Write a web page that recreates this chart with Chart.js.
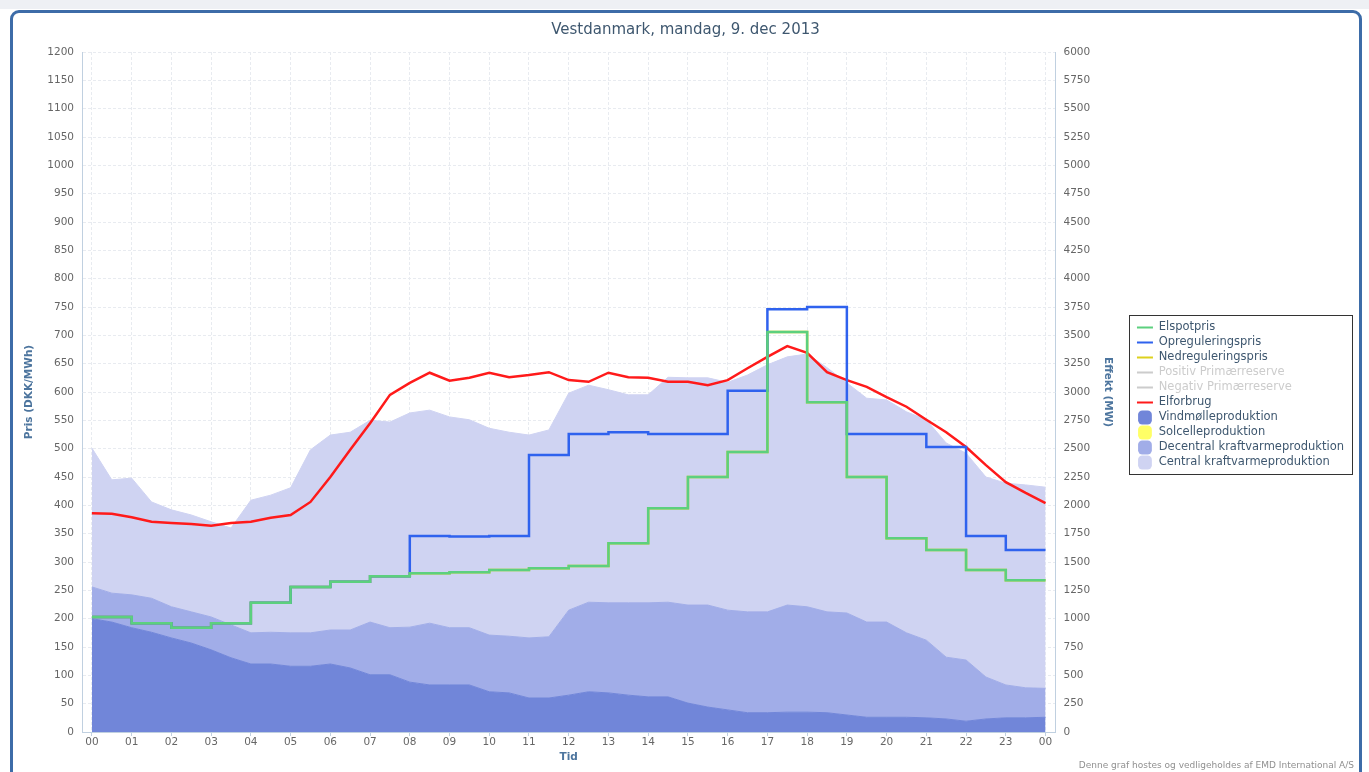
<!DOCTYPE html>
<html lang="da">
<head>
    <meta charset="UTF-8">
    <title>Vestdanmark, mandag, 9. dec 2013</title>
    <style>
        html, body { margin: 0; padding: 0; background: #fff; overflow: hidden; }
        .topstrip { position: absolute; left: 0; top: 0; width: 1369px; height: 9px; background: #eef0f4; }
        .frame { position: absolute; left: 10px; top: 10px; width: 1346px; height: 800px;
                 border: 3px solid #3d6ca8; border-radius: 9px; background: #fff; }
        .wrap { position: absolute; left: 0; top: 0; width: 1369px; height: 772px; }
        .credit { position: absolute; right: 15px; top: 760px; font: 9px "DejaVu Sans", sans-serif; color: #909090; }
    </style>
</head>
<body>
    <div class="topstrip"></div>
    <div class="frame"></div>
    <div class="wrap"><canvas id="chart"></canvas></div>
    <div class="credit">Denne graf hostes og vedligeholdes af EMD International A/S</div>

    <script src="https://cdn.jsdelivr.net/npm/chart.js"></script>
    <script>
        // hourly prices (DKK/MWh), one value per hour 00-23
        const HOURS = [0, 1, 2, 3, 4, 5, 6, 7, 8, 9, 10, 11, 12, 13, 14, 15, 16, 17, 18, 19, 20, 21, 22, 23];
        const ELSPOT = [203, 192, 184, 192, 228, 256, 265, 275, 280, 282, 286, 289, 293, 333, 395, 450, 494, 706, 582, 450, 342, 321, 286, 268];
        const OPREG  = [203, 192, 184, 192, 228, 256, 265, 275, 346, 345, 346, 489, 526, 529, 526, 526, 602, 746, 750, 526, 526, 503, 346, 321];
        const NEDREG = [203, 192, 184, 192, 228, 256, 265, 275, 280, 282, 286, 289, 293, 333, 395, 450, 494, 706, 582, 450, 342, 321, 286, 268];

        // half-hourly power (MW)
        const HALF_HOURS = [0, 0.5, 1, 1.5, 2, 2.5, 3, 3.5, 4, 4.5, 5, 5.5, 6, 6.5, 7, 7.5, 8, 8.5, 9, 9.5,
            10, 10.5, 11, 11.5, 12, 12.5, 13, 13.5, 14, 14.5, 15, 15.5, 16, 16.5, 17, 17.5, 18, 18.5, 19, 19.5,
            20, 20.5, 21, 21.5, 22, 22.5, 23, 23.5, 24];
        const ELFORBRUG = [1930, 1925, 1895, 1855, 1845, 1835, 1820, 1845, 1855, 1890, 1915, 2030, 2250, 2490, 2725, 2975,
            3080, 3170, 3100, 3125, 3170, 3130, 3150, 3175, 3105, 3090, 3170, 3130, 3125, 3090, 3090, 3060,
            3105, 3210, 3310, 3405, 3345, 3175, 3105, 3045, 2955, 2870, 2755, 2645, 2515, 2355, 2205, 2110, 2020];
        const VIND = [1000, 970, 920, 880, 830, 785, 725, 655, 600, 600, 580, 580, 600, 565, 505, 505,
            440, 415, 415, 415, 355, 345, 300, 300, 325, 355, 345, 325, 310, 310, 255, 220,
            195, 170, 170, 175, 175, 170, 150, 130, 130, 130, 125, 115, 95, 115, 125, 125, 130];
        const SOL = [];
        const DECENTRAL = [280, 255, 290, 300, 275, 275, 290, 290, 275, 280, 295, 295, 300, 335, 465, 415,
            485, 545, 505, 505, 500, 500, 530, 540, 750, 790, 795, 815, 830, 835, 865, 900,
            880, 890, 890, 945, 930, 890, 900, 840, 840, 745, 685, 545, 540, 370, 290, 265, 255];
        const CENTRAL = [1225, 1000, 1030, 850, 855, 855, 840, 855, 1170, 1210, 1280, 1615, 1720, 1745, 1780, 1815,
            1890, 1880, 1860, 1835, 1825, 1800, 1790, 1825, 1915, 1915, 1880, 1835, 1835, 1985, 2005, 2005,
            2010, 2090, 2180, 2190, 2230, 2155, 2030, 1975, 1960, 1950, 1945, 1890, 1825, 1765, 1780, 1790, 1775];

        const FONT = "'Lucida Grande', 'DejaVu Sans', sans-serif";
        const TEXT = '#3e576f';
        const AXIS_TITLE = '#4d759e';
        const AXIS_LINE = '#c0d0e0';
        const GRID = '#e8ebf0';

        // step series end with the last hour held until 24:00
        const steps = vals => HOURS.map((h, i) => ({ x: h, y: vals[i] }))
            .concat([{ x: 24, y: vals[vals.length - 1] }]);
        const curve = vals => vals.map((v, i) => ({ x: HALF_HOURS[i], y: v }));

        function stepLine(label, vals, color) {
            return { label, data: steps(vals), yAxisID: 'y', borderColor: color, backgroundColor: color,
                     borderWidth: 2.5, stepped: 'before', pointRadius: 0, fill: false };
        }
        function area(label, vals, color, fill) {
            return { label, data: curve(vals), yAxisID: 'y1', stack: 'prod', borderColor: color,
                     backgroundColor: color, borderWidth: 1, pointRadius: 0, fill, isArea: true };
        }

        // draws the thin box round the legend items
        const legendBox = {
            id: 'legendBox',
            afterDraw(chart) {
                const hb = chart.legend && chart.legend.legendHitBoxes;
                if (!hb || !hb.length) return;
                const left = Math.round(Math.min(...hb.map(b => b.left)) - 8) + 0.5;
                const top = Math.round(Math.min(...hb.map(b => b.top)) - 7) + 0.5;
                const right = Math.round(Math.max(...hb.map(b => b.left + b.width)) + 8) + 0.5;
                const bottom = Math.round(Math.max(...hb.map(b => b.top + b.height)) + 6) + 0.5;
                const ctx = chart.ctx;
                ctx.save();
                ctx.strokeStyle = '#333';
                ctx.lineWidth = 1;
                ctx.strokeRect(left, top, right - left, bottom - top);
                ctx.restore();
            }
        };

        const tickFont = { family: FONT, size: 10.5 };
        const titleFont = { family: FONT, size: 10.5, weight: 'bold' };

        new Chart(document.getElementById('chart'), {
            type: 'line',
            data: {
                datasets: [
                    stepLine('Elspotpris', ELSPOT, '#5cd07e'),
                    stepLine('Opreguleringspris', OPREG, '#2f62ee'),
                    stepLine('Nedreguleringspris', NEDREG, '#ddd11e'),
                    { label: 'Positiv Primærreserve', data: [], yAxisID: 'y', borderColor: '#cccccc', hidden: true, greyed: true },
                    { label: 'Negativ Primærreserve', data: [], yAxisID: 'y', borderColor: '#cccccc', hidden: true, greyed: true },
                    { label: 'Elforbrug', data: curve(ELFORBRUG), yAxisID: 'y1', stack: 'forbrug', borderColor: '#ff1a1a',
                      backgroundColor: '#ff1a1a', borderWidth: 2.5, pointRadius: 0, fill: false },
                    area('Vindmølleproduktion', VIND, '#7186d9', 'origin'),
                    { label: 'Solcelleproduktion', data: curve(SOL), yAxisID: 'y1', stack: 'prod', borderColor: '#ffff66',
                      backgroundColor: '#ffff66', pointRadius: 0, fill: false, isArea: true },
                    area('Decentral kraftvarmeproduktion', DECENTRAL, '#a1ade8', '-2'),
                    area('Central kraftvarmeproduktion', CENTRAL, '#cfd3f2', '-1')
                ]
            },
            options: {
                responsive: true,
                maintainAspectRatio: false,
                animation: false,
                layout: { padding: { left: 17, right: 15, top: 10, bottom: 8 } },
                elements: { line: { tension: 0 } },
                plugins: {
                    tooltip: { enabled: false },
                    title: {
                        display: true,
                        text: 'Vestdanmark, mandag, 9. dec 2013',
                        color: TEXT,
                        font: { family: FONT, size: 15, weight: 'normal' },
                        padding: { top: 11, bottom: 13 }
                    },
                    legend: {
                        position: 'right',
                        // empty title only pushes the items a little lower
                        title: { display: true, text: '', font: { size: 1, lineHeight: 1 }, padding: { top: 15, bottom: 0 } },
                        labels: {
                            font: { family: FONT, size: 11.5 },
                            color: TEXT,
                            usePointStyle: true,
                            pointStyleWidth: 16,
                            padding: 3.5,
                            generateLabels(chart) {
                                return chart.data.datasets.map((ds, i) => {
                                    const grey = !!ds.greyed;
                                    return {
                                        text: ds.label,
                                        datasetIndex: i,
                                        hidden: false,
                                        fontColor: grey ? '#cccccc' : TEXT,
                                        fillStyle: ds.borderColor,
                                        strokeStyle: ds.borderColor,
                                        lineWidth: ds.isArea ? 0 : 2,
                                        pointStyle: ds.isArea ? 'rectRounded' : 'line'
                                    };
                                });
                            }
                        }
                    }
                },
                scales: {
                    x: {
                        type: 'linear',
                        min: -0.25,
                        max: 24.25,
                        afterBuildTicks: s => { s.ticks = s.ticks.filter(t => Number.isInteger(t.value)); },
                        afterFit: s => { s.height = 32; },
                        ticks: {
                            stepSize: 1, maxTicksLimit: 30, includeBounds: false, autoSkip: false, maxRotation: 0, padding: 0,
                            color: '#666', font: tickFont,
                            callback: v => String(v % 24).padStart(2, '0')
                        },
                        grid: { color: GRID, tickLength: 4, tickColor: AXIS_LINE, tickBorderDash: [] },
                        border: { color: AXIS_LINE, dash: [3, 2] },
                        title: { display: true, text: 'Tid', color: AXIS_TITLE, font: titleFont, padding: 0 }
                    },
                    y: {
                        position: 'left',
                        min: 0,
                        max: 1200,
                        afterFit: s => { s.width = 65; },
                        ticks: { stepSize: 50, maxTicksLimit: 30, padding: 8, color: '#666', font: tickFont,
                                 callback: v => String(v) },
                        grid: { color: GRID, drawTicks: false },
                        border: { color: AXIS_LINE, dash: [3, 2] },
                        title: { display: true, text: 'Pris (DKK/MWh)', color: AXIS_TITLE, font: titleFont,
                                 padding: { top: 6, bottom: 0 } }
                    },
                    y1: {
                        position: 'right',
                        min: 0,
                        max: 6000,
                        stacked: true,
                        afterFit: s => { s.width = 78; },
                        ticks: { stepSize: 250, maxTicksLimit: 30, padding: 8, color: '#666', font: tickFont,
                                 callback: v => String(v) },
                        grid: { drawOnChartArea: false, drawTicks: false },
                        border: { color: AXIS_LINE },
                        title: { display: true, text: 'Effekt (MW)', color: AXIS_TITLE, font: titleFont,
                                 padding: { top: 19, bottom: 0 } }
                    }
                }
            },
            plugins: [legendBox]
        });
    </script>
</body>
</html>
